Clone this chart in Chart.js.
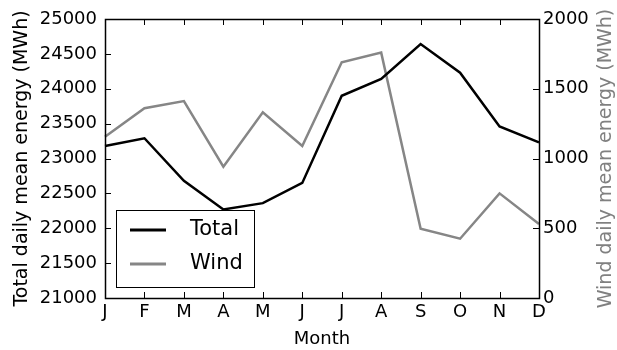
<!DOCTYPE html>
<html>
<head>
<meta charset="utf-8">
<script src="https://cdn.jsdelivr.net/npm/chart.js@4/dist/chart.umd.min.js"></script>
<style>
  html, body { margin: 0; padding: 0; background: #fff; }
  #wrap { width: 617px; height: 350px; }
</style>
</head>
<body>
<div id="wrap"><canvas id="myChart" width="617" height="350"></canvas></div>
<script>
// ----- donnees -----
var mois = ['J', 'F', 'M', 'A', 'M', 'J', 'J', 'A', 'S', 'O', 'N', 'D'];
var total = [23180, 23290, 22680, 22270, 22360, 22650, 23900, 24140, 24640, 24230, 23460, 23230];
var vent = [1156, 1360, 1412, 941, 1331, 1090, 1690, 1759, 497, 425, 750, 530];
var ticksTotal = [21000, 25000, 500];   // min, max, pas
var ticksVent = [0, 2000, 500];
var titreVent = 'Wind daily mean energy (MWh)';

var police = 'DejaVu Sans';

// cadre noir + petits ticks vers l'interieur + legende dans le graphe
const cadre = {
    id: 'cadre',
    afterDraw(chart) {
        const ctx = chart.ctx;
        const a = chart.chartArea;
        const x = chart.scales.x, y = chart.scales.y, y2 = chart.scales.y2;
        ctx.save();
        ctx.strokeStyle = '#000';
        ctx.lineWidth = 1;
        ctx.beginPath();
        // ticks x en bas et en haut
        x.ticks.forEach((t, i) => {
            const px = Math.round(x.getPixelForTick(i)) + 0.5;
            ctx.moveTo(px, a.bottom); ctx.lineTo(px, a.bottom - 6);
            ctx.moveTo(px, a.top); ctx.lineTo(px, a.top + 6);
        });
        y.ticks.forEach((t, i) => {
            const py = Math.round(y.getPixelForTick(i)) + 0.5;
            ctx.moveTo(a.left, py); ctx.lineTo(a.left + 6, py);
        });
        y2.ticks.forEach((t, i) => {
            const py = Math.round(y2.getPixelForTick(i)) + 0.5;
            ctx.moveTo(a.right, py); ctx.lineTo(a.right - 6, py);
        });
        ctx.stroke();
        ctx.lineWidth = 1.5;
        ctx.strokeRect(Math.round(a.left) + 0.5, Math.round(a.top) + 0.5,
                       Math.round(a.right - a.left), Math.round(a.bottom - a.top));

        // titre de l'axe de droite, lu de bas en haut
        ctx.save();
        ctx.translate(606, (a.top + a.bottom) / 2);
        ctx.rotate(-Math.PI / 2);
        ctx.font = '19px "' + police + '"';
        ctx.fillStyle = '#808080';
        ctx.textAlign = 'center';
        ctx.textBaseline = 'middle';
        ctx.fillText(titreVent, 0, 0);
        ctx.restore();

        // legende
        const bx = a.left + 11, bw = 138, bh = 77, by = a.bottom - 11 - bh;
        ctx.fillStyle = '#fff';
        ctx.fillRect(bx, by, bw, bh);
        ctx.lineWidth = 1;
        ctx.strokeStyle = '#000';
        ctx.strokeRect(bx + 0.5, by + 0.5, bw, bh);
        ctx.font = '21px "' + police + '"';
        ctx.textBaseline = 'middle';
        chart.data.datasets.forEach((ds, i) => {
            const ly = by + 20 + i * 34;
            ctx.strokeStyle = ds.borderColor;
            ctx.lineWidth = 3;
            ctx.beginPath();
            ctx.moveTo(bx + 14, ly); ctx.lineTo(bx + 50, ly);
            ctx.stroke();
            ctx.fillStyle = '#000';
            ctx.fillText(ds.label, bx + 74, ly);
        });
        ctx.restore();
    }
};

const data = {
    labels: mois,
    datasets: [{
        label: 'Total',
        data: total,
        yAxisID: 'y',
        borderColor: '#000000',
        borderWidth: 2.5,
        pointRadius: 0,
        tension: 0
    }, {
        label: 'Wind',
        data: vent,
        yAxisID: 'y2',
        borderColor: '#868686',
        borderWidth: 2.5,
        pointRadius: 0,
        tension: 0
    }]
};

const config = {
    type: 'line',
    data,
    plugins: [cadre],
    options: {
        responsive: false,
        animation: false,
        layout: { padding: { top: 19, left: 0, right: 0, bottom: 0 } },
        plugins: {
            legend: { display: false },
            tooltip: { enabled: false }
        },
        scales: {
            x: {
                offset: false,
                grid: { display: false, drawTicks: false },
                border: { display: false },
                ticks: { color: '#000', font: { family: police, size: 18 }, padding: 4, maxRotation: 0, autoSkip: false },
                title: { display: true, text: 'Month', color: '#000', font: { family: police, size: 18 }, padding: { top: 0, bottom: 0 } },
                afterFit: (s) => { s.height = 52; }
            },
            y: {
                position: 'left',
                min: ticksTotal[0], max: ticksTotal[1],
                grid: { display: false, drawTicks: false },
                border: { display: false },
                ticks: { stepSize: ticksTotal[2], color: '#000', font: { family: police, size: 18 }, padding: 8,
                         callback: (v) => String(v) },
                title: { display: true, text: 'Total daily mean energy (MWh)', color: '#000', font: { family: police, size: 19 }, padding: { top: 11, bottom: 0 } },
                afterFit: (s) => { s.width = 105; }
            },
            y2: {
                position: 'right',
                min: ticksVent[0], max: ticksVent[1],
                grid: { display: false, drawTicks: false },
                border: { display: false },
                ticks: { stepSize: ticksVent[2], color: '#000', font: { family: police, size: 18 }, padding: 4,
                         callback: (v) => String(v) },
                title: { display: false },
                afterFit: (s) => { s.width = 78; }
            }
        }
    }
};

const myChart = new Chart(document.getElementById('myChart').getContext('2d'), config);
</script>
</body>
</html>
